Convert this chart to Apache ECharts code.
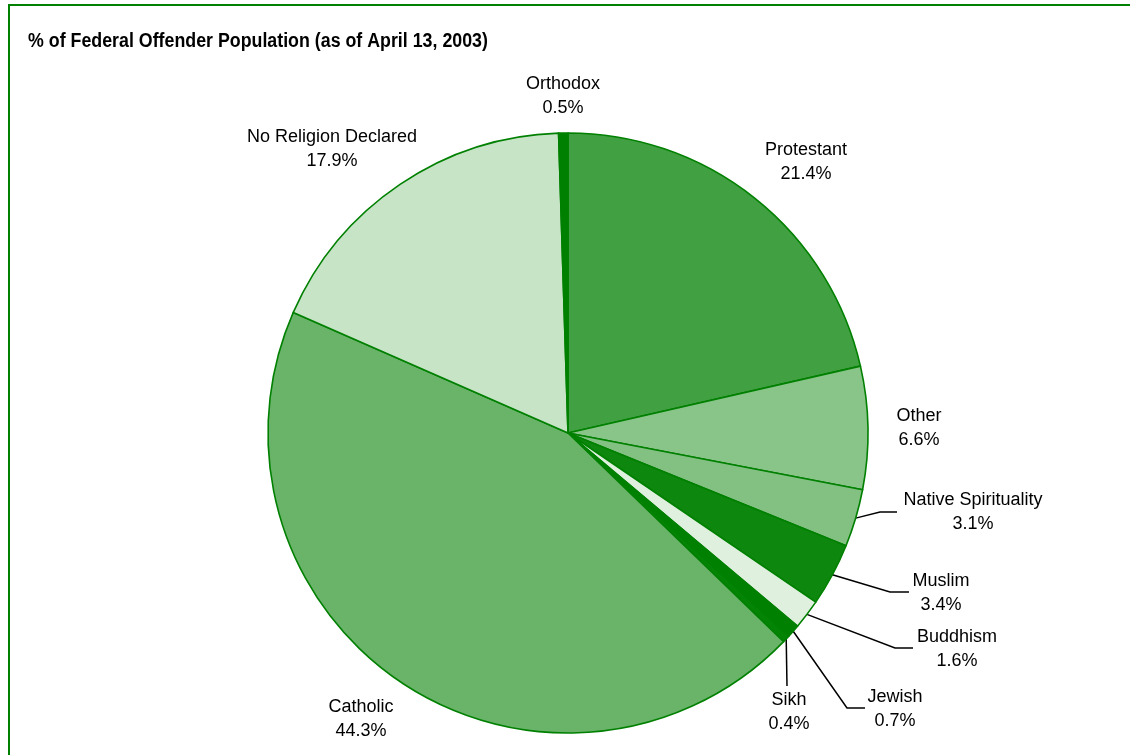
<!DOCTYPE html>
<html>
<head>
<meta charset="utf-8">
<script src="https://cdn.jsdelivr.net/npm/echarts@6/dist/echarts.min.js"></script>
<style>
html,body{margin:0;padding:0;background:#fff;}
#chart{width:1130px;height:755px;}
</style>
</head>
<body>
<div id="chart"></div>
<script>
// ---- data ----
var categories = ['Protestant', 'Other', 'Native Spirituality', 'Muslim', 'Buddhism', 'Jewish', 'Sikh', 'Catholic', 'No Religion Declared', 'Orthodox'];
var values = [21.4, 6.6, 3.1, 3.4, 1.6, 0.7, 0.4, 44.3, 17.9, 0.5];
var titleText = '% of Federal Offender Population (as of April 13, 2003)';

// ---- styling (not data) ----
var colors = ['#41a041', '#89c589', '#83c183', '#0d870d', '#dff0df', '#008000', '#048404', '#69b469', '#c7e4c7', '#008000'];
// label anchor (center) and elbow points for leader lines
var labelPos = {
  'Protestant': {x: 806, y: 162},
  'Other': {x: 919, y: 428},
  'Native Spirituality': {x: 973, y: 512, line: [[880, 512], [897, 512]]},
  'Muslim': {x: 941, y: 593, line: [[890, 592], [909, 592]]},
  'Buddhism': {x: 957, y: 649, line: [[895, 648], [913, 648]]},
  'Jewish': {x: 895, y: 709, line: [[847, 708], [865, 708]]},
  'Sikh': {x: 789, y: 712, line: [[787, 686]]},
  'Catholic': {x: 361, y: 719},
  'No Religion Declared': {x: 332, y: 149},
  'Orthodox': {x: 563, y: 96}
};

var cx = 568, cy = 433, R = 300;
var total = values.reduce(function (a, b) { return a + b; }, 0);
function edgePoint(idx) {
  var cum = 0;
  for (var i = 0; i < idx; i++) cum += values[i];
  var mid = (cum + values[idx] / 2) / total * Math.PI * 2;
  return [cx + R * Math.sin(mid), cy - R * Math.cos(mid)];
}

var seriesData = categories.map(function (c, i) {
  var p = labelPos[c];
  return {
    name: c,
    value: values[i],
    itemStyle: {color: colors[i]},
    labelLine: {show: !!p.line}
  };
});

var chart = echarts.init(document.getElementById('chart'), null, {renderer: 'canvas'});
chart.setOption({
  animation: false,
  backgroundColor: '#ffffff',
  graphic: [{
    type: 'rect',
    shape: {x: 9, y: 5, width: 1300, height: 900},
    style: {fill: 'none', stroke: '#008000', lineWidth: 2},
    silent: true
  }, {
    type: 'text',
    x: 28,
    y: 41,
    scaleX: 0.89,
    style: {
      text: titleText,
      font: 'bold 20px "Liberation Sans", Arial, sans-serif',
      fill: '#000',
      textAlign: 'left',
      textVerticalAlign: 'middle'
    },
    silent: true
  }],
  series: [{
    type: 'pie',
    center: [cx, cy],
    radius: [0, R],
    startAngle: 90,
    clockwise: true,
    avoidLabelOverlap: false,
    data: seriesData,
    itemStyle: {borderColor: '#008000', borderWidth: 1.6},
    label: {
      show: true,
      position: 'outside',
      formatter: '{b}\n{c}%',
      fontFamily: '"Liberation Sans", Arial, sans-serif',
      fontSize: 18,
      lineHeight: 24,
      color: '#000',
      align: 'center'
    },
    labelLine: {
      show: true,
      lineStyle: {color: '#000', width: 1.5}
    },
    labelLayout: function (params) {
      var name = categories[params.dataIndex];
      var p = labelPos[name];
      var res = {x: p.x, y: p.y, align: 'center', verticalAlign: 'middle'};
      if (p.line) {
        res.labelLinePoints = [edgePoint(params.dataIndex)].concat(p.line);
      }
      return res;
    },
    emphasis: {disabled: true}
  }]
});
</script>
</body>
</html>
